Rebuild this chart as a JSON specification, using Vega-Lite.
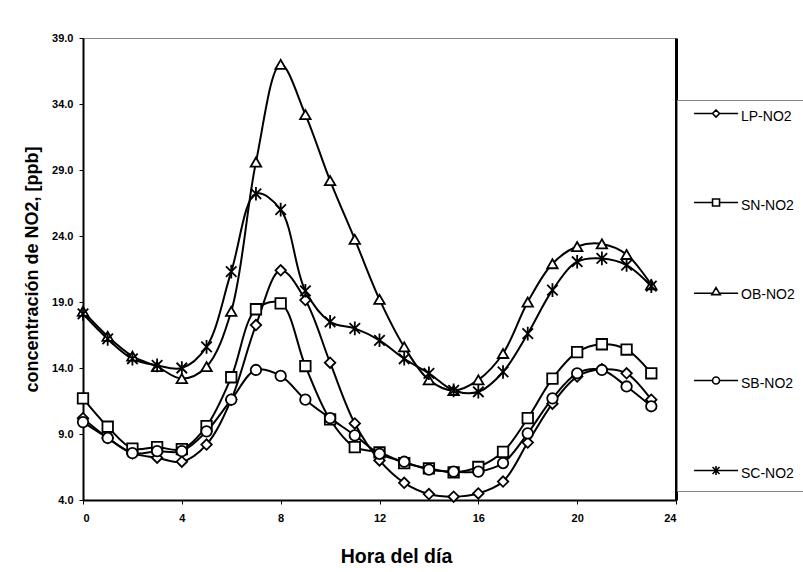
{
  "$schema": "https://vega.github.io/schema/vega-lite/v6.json",
  "width": 593,
  "height": 462,
  "autosize": "none",
  "padding": {"left": 83, "top": 38, "right": 127, "bottom": 72},
  "background": "white",
  "config": {
    "view": {"stroke": "#888", "strokeWidth": 1},
    "font": "Liberation Sans",
    "axis": {
      "labelFont": "Liberation Sans",
      "labelFontWeight": "bold",
      "labelFontSize": 11,
      "labelColor": "black",
      "titleFont": "Liberation Sans",
      "titleFontWeight": "bold",
      "titleFontSize": 18,
      "titleColor": "black",
      "domainColor": "black",
      "tickColor": "black",
      "grid": false
    }
  },
  "data": {
    "values": [
      {"h": 0, "s": "LP-NO2", "v": 10.2}, {"h": 1, "s": "LP-NO2", "v": 8.7}, {"h": 2, "s": "LP-NO2", "v": 7.55}, {"h": 3, "s": "LP-NO2", "v": 7.2},
      {"h": 4, "s": "LP-NO2", "v": 6.9}, {"h": 5, "s": "LP-NO2", "v": 8.2}, {"h": 6, "s": "LP-NO2", "v": 11.6}, {"h": 7, "s": "LP-NO2", "v": 17.25},
      {"h": 8, "s": "LP-NO2", "v": 21.4}, {"h": 9, "s": "LP-NO2", "v": 19.15}, {"h": 10, "s": "LP-NO2", "v": 14.4}, {"h": 11, "s": "LP-NO2", "v": 9.8},
      {"h": 12, "s": "LP-NO2", "v": 7.0}, {"h": 13, "s": "LP-NO2", "v": 5.3}, {"h": 14, "s": "LP-NO2", "v": 4.45}, {"h": 15, "s": "LP-NO2", "v": 4.25},
      {"h": 16, "s": "LP-NO2", "v": 4.5}, {"h": 17, "s": "LP-NO2", "v": 5.4}, {"h": 18, "s": "LP-NO2", "v": 8.35}, {"h": 19, "s": "LP-NO2", "v": 11.3},
      {"h": 20, "s": "LP-NO2", "v": 13.35}, {"h": 21, "s": "LP-NO2", "v": 13.9}, {"h": 22, "s": "LP-NO2", "v": 13.6}, {"h": 23, "s": "LP-NO2", "v": 11.6},

      {"h": 0, "s": "SN-NO2", "v": 11.7}, {"h": 1, "s": "SN-NO2", "v": 9.55}, {"h": 2, "s": "SN-NO2", "v": 7.9}, {"h": 3, "s": "SN-NO2", "v": 8.0},
      {"h": 4, "s": "SN-NO2", "v": 7.85}, {"h": 5, "s": "SN-NO2", "v": 9.6}, {"h": 6, "s": "SN-NO2", "v": 13.3}, {"h": 7, "s": "SN-NO2", "v": 18.45},
      {"h": 8, "s": "SN-NO2", "v": 18.9}, {"h": 9, "s": "SN-NO2", "v": 14.15}, {"h": 10, "s": "SN-NO2", "v": 10.1}, {"h": 11, "s": "SN-NO2", "v": 8.0},
      {"h": 12, "s": "SN-NO2", "v": 7.6}, {"h": 13, "s": "SN-NO2", "v": 6.8}, {"h": 14, "s": "SN-NO2", "v": 6.4}, {"h": 15, "s": "SN-NO2", "v": 6.1},
      {"h": 16, "s": "SN-NO2", "v": 6.5}, {"h": 17, "s": "SN-NO2", "v": 7.65}, {"h": 18, "s": "SN-NO2", "v": 10.2}, {"h": 19, "s": "SN-NO2", "v": 13.2},
      {"h": 20, "s": "SN-NO2", "v": 15.2}, {"h": 21, "s": "SN-NO2", "v": 15.8}, {"h": 22, "s": "SN-NO2", "v": 15.4}, {"h": 23, "s": "SN-NO2", "v": 13.6},

      {"h": 0, "s": "OB-NO2", "v": 18.3}, {"h": 1, "s": "OB-NO2", "v": 16.4}, {"h": 2, "s": "OB-NO2", "v": 14.9}, {"h": 3, "s": "OB-NO2", "v": 14.1},
      {"h": 4, "s": "OB-NO2", "v": 13.2}, {"h": 5, "s": "OB-NO2", "v": 14.1}, {"h": 6, "s": "OB-NO2", "v": 18.3}, {"h": 7, "s": "OB-NO2", "v": 29.6},
      {"h": 8, "s": "OB-NO2", "v": 37.0}, {"h": 9, "s": "OB-NO2", "v": 33.2}, {"h": 10, "s": "OB-NO2", "v": 28.2}, {"h": 11, "s": "OB-NO2", "v": 23.75},
      {"h": 12, "s": "OB-NO2", "v": 19.2}, {"h": 13, "s": "OB-NO2", "v": 15.6}, {"h": 14, "s": "OB-NO2", "v": 13.1}, {"h": 15, "s": "OB-NO2", "v": 12.3},
      {"h": 16, "s": "OB-NO2", "v": 13.1}, {"h": 17, "s": "OB-NO2", "v": 15.1}, {"h": 18, "s": "OB-NO2", "v": 19.0}, {"h": 19, "s": "OB-NO2", "v": 21.9},
      {"h": 20, "s": "OB-NO2", "v": 23.2}, {"h": 21, "s": "OB-NO2", "v": 23.4}, {"h": 22, "s": "OB-NO2", "v": 22.6}, {"h": 23, "s": "OB-NO2", "v": 20.3},

      {"h": 0, "s": "SB-NO2", "v": 9.9}, {"h": 1, "s": "SB-NO2", "v": 8.7}, {"h": 2, "s": "SB-NO2", "v": 7.55}, {"h": 3, "s": "SB-NO2", "v": 7.7},
      {"h": 4, "s": "SB-NO2", "v": 7.7}, {"h": 5, "s": "SB-NO2", "v": 9.2}, {"h": 6, "s": "SB-NO2", "v": 11.6}, {"h": 7, "s": "SB-NO2", "v": 13.85},
      {"h": 8, "s": "SB-NO2", "v": 13.4}, {"h": 9, "s": "SB-NO2", "v": 11.6}, {"h": 10, "s": "SB-NO2", "v": 10.2}, {"h": 11, "s": "SB-NO2", "v": 8.9},
      {"h": 12, "s": "SB-NO2", "v": 7.5}, {"h": 13, "s": "SB-NO2", "v": 6.9}, {"h": 14, "s": "SB-NO2", "v": 6.3}, {"h": 15, "s": "SB-NO2", "v": 6.15},
      {"h": 16, "s": "SB-NO2", "v": 6.15}, {"h": 17, "s": "SB-NO2", "v": 6.8}, {"h": 18, "s": "SB-NO2", "v": 9.05}, {"h": 19, "s": "SB-NO2", "v": 11.7},
      {"h": 20, "s": "SB-NO2", "v": 13.6}, {"h": 21, "s": "SB-NO2", "v": 13.85}, {"h": 22, "s": "SB-NO2", "v": 12.6}, {"h": 23, "s": "SB-NO2", "v": 11.1},

      {"h": 0, "s": "SC-NO2", "v": 18.1}, {"h": 1, "s": "SC-NO2", "v": 16.2}, {"h": 2, "s": "SC-NO2", "v": 14.7}, {"h": 3, "s": "SC-NO2", "v": 14.2},
      {"h": 4, "s": "SC-NO2", "v": 14.0}, {"h": 5, "s": "SC-NO2", "v": 15.6}, {"h": 6, "s": "SC-NO2", "v": 21.3}, {"h": 7, "s": "SC-NO2", "v": 27.2},
      {"h": 8, "s": "SC-NO2", "v": 26.0}, {"h": 9, "s": "SC-NO2", "v": 19.85}, {"h": 10, "s": "SC-NO2", "v": 17.5}, {"h": 11, "s": "SC-NO2", "v": 17.0},
      {"h": 12, "s": "SC-NO2", "v": 16.1}, {"h": 13, "s": "SC-NO2", "v": 14.7}, {"h": 14, "s": "SC-NO2", "v": 13.6}, {"h": 15, "s": "SC-NO2", "v": 12.3},
      {"h": 16, "s": "SC-NO2", "v": 12.2}, {"h": 17, "s": "SC-NO2", "v": 13.7}, {"h": 18, "s": "SC-NO2", "v": 16.6}, {"h": 19, "s": "SC-NO2", "v": 19.9},
      {"h": 20, "s": "SC-NO2", "v": 22.05}, {"h": 21, "s": "SC-NO2", "v": 22.3}, {"h": 22, "s": "SC-NO2", "v": 21.8}, {"h": 23, "s": "SC-NO2", "v": 20.2}
    ]
  },
  "encoding": {
    "x": {
      "field": "h",
      "type": "quantitative",
      "scale": {"domain": [0, 24], "nice": false, "zero": false},
      "axis": {
        "title": "Hora del día",
        "titleFontSize": 19.5,
        "titleX": 313,
        "values": [0, 4, 8, 12, 16, 20, 24],
        "domainWidth": 2,
        "tickSize": 4,
        "labelPadding": 8,
        "titlePadding": 24
      }
    }
  },
  "layer": [
    {
      "mark": {"type": "line", "interpolate": "catmull-rom", "strokeWidth": 2},
      "encoding": {
        "y": {
          "field": "v",
          "type": "quantitative",
          "scale": {"domain": [4, 39], "nice": false, "zero": false},
          "axis": {
            "orient": "left",
            "title": "concentración de NO2, [ppb]",
            "values": [4, 9, 14, 19, 24, 29, 34, 39],
            "format": ".1f",
            "domainWidth": 2,
            "tickSize": 4,
            "labelPadding": 6,
            "titlePadding": 10
          }
        },
        "color": {
          "field": "s",
          "type": "nominal",
          "sort": ["LP-NO2", "SN-NO2", "OB-NO2", "SB-NO2", "SC-NO2"],
          "scale": {"range": ["black", "black", "black", "black", "black"]},
          "legend": {
            "orient": "none",
            "legendX": 594,
            "legendY": 62,
            "title": null,
            "direction": "vertical",
            "padding": 10,
            "rowPadding": 71,
            "symbolSize": 49,
            "symbolStrokeWidth": 1.6,
            "labelOffset": 40,
            "labelFont": "Liberation Sans",
            "labelFontSize": 14,
            "labelColor": "black",
            "strokeColor": "#888",
            "fillColor": "white",
            "encode": {
              "symbols": {
                "update": {
                  "fill": {"value": "white"},
                  "stroke": {"value": "black"},
                  "strokeWidth": {"value": 1.6},
                  "shape": {
                    "signal": "datum.value === 'LP-NO2' ? 'M0,-1L5.3,-1M7.3,-1L12.6,-1M6.3,-2L7.3,-1L6.3,0L5.3,-1Z' : datum.value === 'SN-NO2' ? 'M0,-1L5.3,-1M7.3,-1L12.6,-1M5.3,-2L7.3,-2L7.3,0L5.3,0Z' : datum.value === 'OB-NO2' ? 'M0,-0.5L5.34,-0.5M7.26,-0.5L12.6,-0.5M6.3,-2.1L7.5,-0.1L5.1,-0.1Z' : datum.value === 'SB-NO2' ? 'M0,-1L5.3,-1M7.3,-1L12.6,-1M5.3,-1A1,1,0,1,1,7.3,-1A1,1,0,1,1,5.3,-1Z' : 'M0,-1L12.6,-1M5.3,-2L7.3,0M5.3,0L7.3,-2M6.3,-2.3L6.3,0.3'"
                  }
                }
              }
            }
          }
        }
      }
    },
    {
      "mark": {
        "type": "point",
        "filled": false,
        "fill": "white",
        "fillOpacity": 1,
        "stroke": "black",
        "strokeWidth": 1.8,
        "size": 110,
        "opacity": 1
      },
      "encoding": {
        "y": {
          "field": "v",
          "type": "quantitative",
          "axis": {
            "orient": "right",
            "title": null,
            "labels": false,
            "ticks": false,
            "domainWidth": 3
          }
        },
        "shape": {
          "field": "s",
          "type": "nominal",
          "scale": {
            "domain": ["LP-NO2", "SN-NO2", "OB-NO2", "SB-NO2", "SC-NO2"],
            "range": ["diamond", "square", "triangle-up", "circle", "M-1,-1L1,1M-1,1L1,-1M0,-1.3L0,1.3"]
          },
          "legend": null
        }
      }
    }
  ],
  "resolve": {"axis": {"y": "independent"}}
}
